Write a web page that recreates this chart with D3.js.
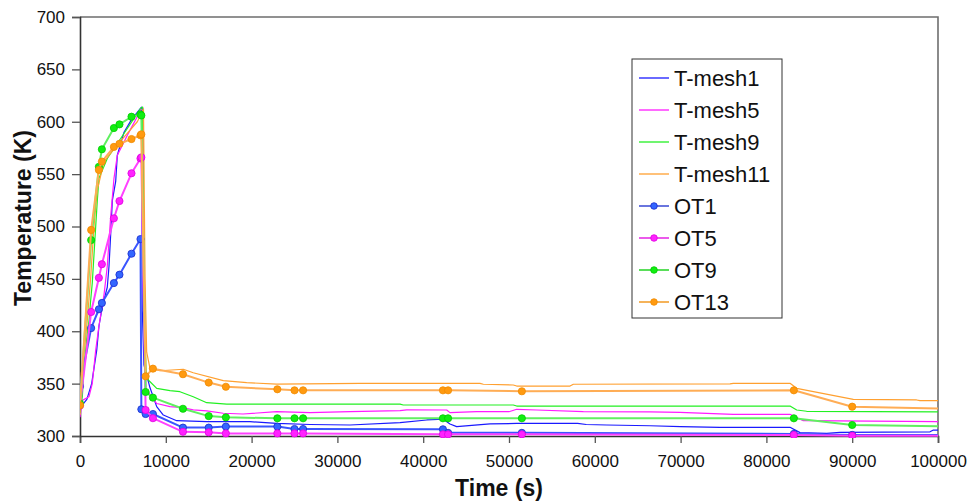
<!DOCTYPE html>
<html>
<head>
<meta charset="utf-8">
<script src="https://cdn.jsdelivr.net/npm/d3@7"></script>
<style>
  html, body { margin: 0; padding: 0; background: #fff; }
  svg { display: block; font-family: "Liberation Sans", Arial, sans-serif; }
</style>
</head>
<body>
<svg id="chart" width="970" height="501"></svg>
<script>
// Axis ticks
const xTicks = [0, 10000, 20000, 30000, 40000, 50000, 60000, 70000, 80000, 90000, 100000];
const yTicks = [300, 350, 400, 450, 500, 550, 600, 650, 700];

// Simulated temperatures (thin lines, no markers)
const mesh1Time = [0, 300, 800, 1360, 1950, 2210, 2530, 2800, 3180, 3380, 3580, 3770, 4160, 4350, 5130, 6000, 7070, 7180, 7260, 7450, 8160, 8940, 9710, 11270, 14770, 19810, 22930, 26810, 31470, 37300, 40410, 42340, 43120, 43900, 47790, 50900, 58000, 59000, 61390, 66430, 70000, 74590, 82750, 83920, 87030, 88580, 99070, 99460, 100000];
const mesh1Temp = [326, 330, 335, 350, 382, 405, 420, 430, 442, 462, 493, 525, 543, 568, 590, 602, 613, 614, 420, 368, 346, 328, 320, 314.6, 313.7, 313.7, 312, 311, 310.5, 312.7, 315.3, 316, 311.5, 309, 311.5, 312, 312, 311, 310.5, 309.8, 309, 308.3, 308.3, 303.2, 302.5, 303.5, 304, 305.7, 305.7];

const mesh5Time = [0, 270, 1050, 1430, 1830, 2210, 2600, 2800, 3180, 3580, 3960, 4350, 5510, 7070, 7350, 7450, 7700, 8940, 10490, 12040, 13200, 14770, 16700, 19000, 22930, 26810, 31470, 37300, 38080, 42740, 43120, 46230, 50000, 50900, 53230, 58660, 66430, 69930, 76140, 82750, 84300, 100000];
const mesh5Temp = [318, 334, 337.5, 350, 382, 405, 425, 435, 462, 510, 546, 568, 587, 611, 613, 420, 345, 331, 328, 327, 325, 324, 321.7, 321, 323.2, 322.3, 323.2, 324.2, 325, 324.8, 322.3, 323.2, 323.2, 325.5, 324.8, 323.2, 323, 322.5, 320.7, 320.7, 314.6, 313.7];

const mesh9Time = [0, 270, 470, 850, 1050, 1250, 1430, 1830, 2020, 2210, 3180, 4740, 7070, 7300, 7450, 7700, 7960, 8940, 10490, 11650, 13200, 14770, 17100, 37300, 37680, 50500, 50900, 82750, 83530, 84690, 100000];
const mesh9Temp = [322, 337.5, 366, 398, 410, 430, 446, 500, 525, 546, 565, 584, 612.8, 614, 420, 362, 353.5, 345.5, 343.3, 342.3, 337.5, 331.8, 330.5, 330.5, 329.6, 329.6, 328.6, 328.6, 324.8, 323.6, 323];

const mesh11Time = [0, 150, 400, 850, 1250, 1630, 2020, 2800, 4350, 6680, 7400, 7580, 7770, 8160, 9320, 12040, 13200, 16700, 19430, 22930, 32630, 46620, 47010, 50500, 50900, 57110, 57500, 75760, 76140, 82750, 83530, 90130, 97510, 97900, 100000];
const mesh11Temp = [320, 360, 372, 410, 452, 500, 535, 562, 578, 600, 612, 450, 380, 364.6, 362.3, 363.7, 360.4, 352.8, 350.9, 349.6, 350.3, 350.3, 349.4, 348.7, 347.7, 347.7, 349.4, 349.7, 350.3, 350.3, 345.5, 335, 334.4, 333.7, 333.7];

// Measured temperatures (lines with markers), shared sampling times
const otTime = [0, 1300, 2200, 2550, 3950, 4600, 6000, 7050, 7150, 7650, 8500, 12000, 15000, 17000, 23000, 25000, 26000, 42300, 42900, 51500, 83200, 90000, 101000];
const ot1Temp  = [347.6, 403, 421, 427, 446, 454, 474, 488, 325.5, 321, 321, 308, 308, 309, 309, 306.7, 306.7, 306.4, 303, 303, 302, 301, 301];
const ot5Temp  = [329, 418.4, 451, 464, 507.8, 524.3, 550.8, 565, 566, 324.8, 317, 304, 303.5, 302.5, 302.5, 302.5, 302.5, 301.6, 301.6, 301.6, 301, 300.3, 300.3];
const ot9Temp  = [331, 487, 557, 573.7, 594, 597.5, 604.8, 607, 606, 342, 336.6, 326, 319, 317.8, 316.9, 316.9, 316.9, 316.9, 316.9, 316.9, 316.9, 310.5, 309.3];
const ot13Temp = [329.3, 496.7, 554, 562, 576, 579, 583.5, 587, 588, 357, 364.3, 359, 351, 347, 344.6, 343.6, 343.6, 343.6, 343.6, 342.7, 343.6, 328, 326];

const meshSeries = [
  { name: "T-mesh1",  time: mesh1Time,  temp: mesh1Temp,  color: "#1a1aff" },
  { name: "T-mesh5",  time: mesh5Time,  temp: mesh5Temp,  color: "#ff1aff" },
  { name: "T-mesh9",  time: mesh9Time,  temp: mesh9Temp,  color: "#22f022" },
  { name: "T-mesh11", time: mesh11Time, temp: mesh11Temp, color: "#ffa030" }
];
const otSeries = [
  { name: "OT1",  temp: ot1Temp,  line: "#3a55ff", fill: "#3366ff", stroke: "#1a2acc" },
  { name: "OT5",  temp: ot5Temp,  line: "#ff40ff", fill: "#ff22ff", stroke: "#e000e0" },
  { name: "OT9",  temp: ot9Temp,  line: "#60f060", fill: "#11ee11", stroke: "#00cc00" },
  { name: "OT13", temp: ot13Temp, line: "#ffad55", fill: "#ff9a10", stroke: "#f08a00" }
];

const W = 970, H = 501;
const margin = { top: 17, right: 32, bottom: 65, left: 80 };
const iw = W - margin.left - margin.right;
const ih = H - margin.top - margin.bottom;

const svg = d3.select("#chart");
const g = svg.append("g").attr("transform", `translate(${margin.left},${margin.top})`);

const x = d3.scaleLinear().domain([0, 100000]).range([0, iw]);
const y = d3.scaleLinear().domain([300, 700]).range([ih, 0]);

svg.append("defs").append("clipPath").attr("id", "plotClip")
  .append("rect").attr("x", 0).attr("y", -2).attr("width", iw).attr("height", ih + 4);

// Plot frame (top and right edges)
g.append("path")
  .attr("d", `M0,0H${iw}V${ih}`)
  .attr("fill", "none").attr("stroke", "#6e6e6e").attr("stroke-width", 1.6);

// Axes
const xAxis = g.append("g").attr("transform", `translate(0,${ih})`)
  .call(d3.axisBottom(x).tickValues(xTicks).tickFormat(d3.format("d")).tickSize(7).tickPadding(12));
const yAxis = g.append("g")
  .call(d3.axisLeft(y).tickValues(yTicks).tickFormat(d3.format("d")).tickSize(8).tickPadding(7));
[xAxis, yAxis].forEach(a => {
  a.select(".domain").attr("stroke", "#333").attr("stroke-width", 1.6);
  a.selectAll(".tick line").attr("stroke", "#555").attr("stroke-width", 1.3);
  a.selectAll(".tick text").attr("fill", "#111").attr("font-size", 17)
    .attr("font-family", "'Liberation Sans', Arial, sans-serif");
});

// Axis titles
svg.append("text")
  .attr("x", margin.left + iw / 2 - 10).attr("y", 496)
  .attr("text-anchor", "middle").attr("font-weight", "bold").attr("font-size", 23)
  .attr("fill", "#111").text("Time (s)");
svg.append("text")
  .attr("transform", `translate(31,${218}) rotate(-90)`)
  .attr("text-anchor", "middle").attr("font-weight", "bold").attr("font-size", 23)
  .attr("fill", "#111").text("Temperature (K)");

const plot = g.append("g").attr("clip-path", "url(#plotClip)");

// Simulated curves
const meshLine = d3.line().x(d => x(d[0])).y(d => y(d[1]));
meshSeries.forEach(s => {
  const pts = s.time.map((t, i) => [t, s.temp[i]]);
  plot.append("path").datum(pts)
    .attr("d", meshLine).attr("fill", "none")
    .attr("stroke", s.color).attr("stroke-width", 1.2).attr("stroke-linejoin", "round");
});

// Measured curves with markers
otSeries.forEach(s => {
  const pts = otTime.map((t, i) => [t, s.temp[i]]);
  plot.append("path").datum(pts)
    .attr("d", meshLine).attr("fill", "none")
    .attr("stroke", s.line).attr("stroke-width", 2).attr("stroke-linejoin", "round");
  plot.selectAll(null).data(pts).enter().append("circle")
    .attr("cx", d => x(d[0])).attr("cy", d => y(d[1])).attr("r", 3.6)
    .attr("fill", s.fill).attr("stroke", s.stroke).attr("stroke-width", 0.8);
});

// Legend
const legend = svg.append("g").attr("transform", "translate(632,59)");
legend.append("rect").attr("width", 150).attr("height", 259)
  .attr("fill", "#fff").attr("stroke", "#333").attr("stroke-width", 1);
const rows = [
  ...meshSeries.map(s => ({ name: s.name, color: s.color, marker: null })),
  ...otSeries.map(s => ({ name: s.name, color: s.stroke, marker: s.fill }))
];
rows.forEach((r, i) => {
  const cy = 19 + i * 32;
  legend.append("line").attr("x1", 7).attr("x2", 37).attr("y1", cy).attr("y2", cy)
    .attr("stroke", r.color).attr("stroke-width", 1.3);
  if (r.marker) {
    legend.append("circle").attr("cx", 22).attr("cy", cy).attr("r", 3.3)
      .attr("fill", r.marker).attr("stroke", r.color).attr("stroke-width", 0.8);
  }
  legend.append("text").attr("x", 42).attr("y", cy).attr("dy", "0.36em")
    .attr("font-size", 22).attr("fill", "#111").text(r.name);
});
</script>
</body>
</html>
